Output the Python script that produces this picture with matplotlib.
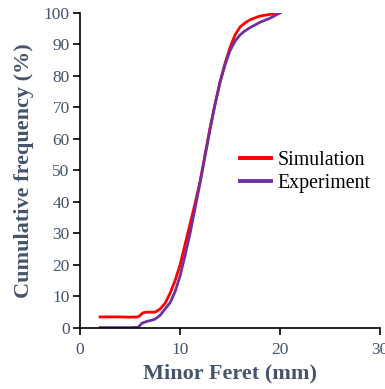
import matplotlib
matplotlib.use("Agg")
import matplotlib.pyplot as plt

sim_x = [2, 3, 4, 5, 5.8, 6.3, 6.6, 7.5, 8, 8.5, 9, 9.5, 10, 10.5, 11, 11.5, 12, 12.5, 13, 13.5, 14, 14.5, 15, 15.5, 16, 16.5, 17, 18, 19, 20]
sim_y = [3.5, 3.5, 3.5, 3.4, 3.5, 4.8, 5.0, 5.0, 6.0, 7.8, 11, 15, 20, 26.5, 33, 39.5, 46.5, 55, 63.5, 71, 78, 84, 89, 93, 95.5, 96.8, 97.8, 99, 99.5, 100]

exp_x = [2, 3, 4, 5, 5.8, 6.2, 6.6, 7, 7.5, 8, 8.5, 9, 9.5, 10, 10.5, 11, 11.5, 12, 12.5, 13, 13.5, 14, 14.5, 15, 15.5, 16, 16.5, 17, 18, 19, 20]
exp_y = [0.1, 0.1, 0.1, 0.1, 0.2, 1.5, 2.0, 2.3, 2.8, 4, 6, 8, 11.5, 16.5, 23, 30, 38, 46, 54.5, 63, 71, 78, 83.5, 88, 91, 93, 94.3, 95.3, 97, 98.3, 100]

x_ticks = [0, 10, 20, 30]
y_ticks = list(range(0, 101, 10))

plt.rcParams['font.family'] = ['Liberation Serif', 'DejaVu Serif']
lab_color = '#44546A'

fig = plt.figure(figsize=(3.85, 3.89), dpi=100)
ax = fig.add_axes([0.208, 0.157, 0.779, 0.81])
ax.plot(sim_x, sim_y, color='#FF0000', lw=2, label='Simulation')
ax.plot(exp_x, exp_y, color='#7030A0', lw=2, label='Experiment')

ax.set_xlim(0, 30)
ax.set_ylim(0, 100)
ax.set_xticks(x_ticks)
ax.set_yticks(y_ticks)
ax.spines['top'].set_visible(False)
ax.spines['right'].set_visible(False)
for s in ('left', 'bottom'):
    ax.spines[s].set_linewidth(1.2)
ax.tick_params(direction='out', length=5, width=1.2, labelsize=12.5, labelcolor=lab_color)
ax.tick_params(axis='x', pad=5)
ax.tick_params(axis='y', pad=2.5)
ax.set_xlabel('Minor Feret (mm)', fontsize=16, fontweight='bold', color=lab_color, labelpad=4)
ax.set_ylabel('Cumulative frequency (%)', fontsize=16, fontweight='bold', color=lab_color, labelpad=7)

leg = ax.legend(loc='center left', bbox_to_anchor=(0.533, 0.495), frameon=False, fontsize=14.3,
                handlelength=1.55, handletextpad=0.35, labelspacing=0.2,
                borderpad=0, borderaxespad=0)
for line in leg.get_lines():
    line.set_linewidth(2.8)

fig.savefig('out.png', dpi=100)
